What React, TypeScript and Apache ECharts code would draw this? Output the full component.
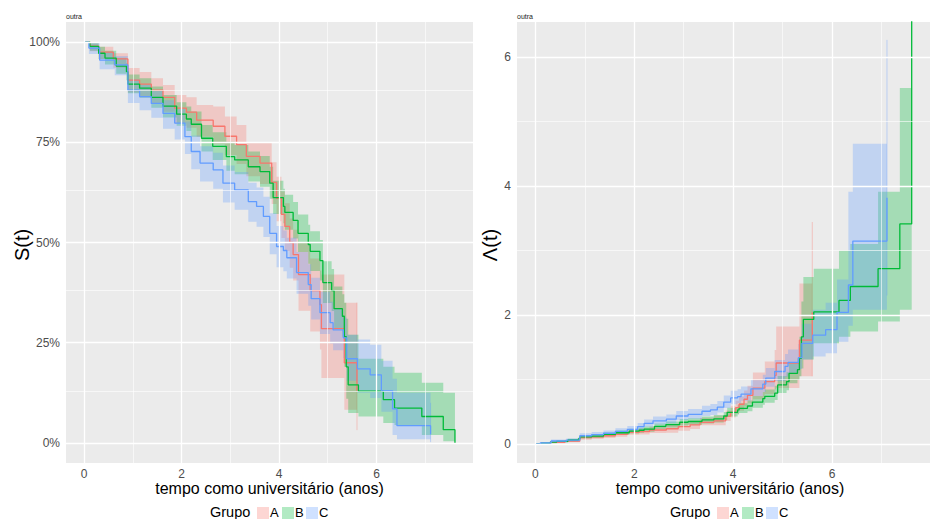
import React, { useEffect, useRef } from 'react';
import * as echarts from 'echarts';

const FONT = '"Liberation Sans", Arial, Helvetica, sans-serif';

// Kaplan–Meier estimates per group: step start times, survival, 95% CI bounds
const timeA = [0, 0.12, 0.3, 0.6, 0.9, 1.14, 1.38, 1.62, 1.86, 2.1, 2.31, 2.65, 2.89, 3.13, 3.33, 3.61, 3.85, 3.95, 4.05, 4.12, 4.22, 4.29, 4.4, 4.64, 4.84, 4.87, 5.34, 5.6];
const survA = [1, 0.99, 0.975, 0.958, 0.905, 0.895, 0.88, 0.862, 0.835, 0.825, 0.805, 0.79, 0.765, 0.744, 0.715, 0.698, 0.65, 0.61, 0.57, 0.54, 0.5, 0.47, 0.42, 0.38, 0.345, 0.285, 0.2, 0.13];
const lowerA = [1, 0.977, 0.958, 0.936, 0.874, 0.862, 0.846, 0.826, 0.797, 0.786, 0.764, 0.745, 0.718, 0.696, 0.665, 0.646, 0.596, 0.553, 0.511, 0.479, 0.437, 0.405, 0.33, 0.278, 0.233, 0.162, 0.083, 0.032];
const upperA = [1, 0.999, 0.988, 0.972, 0.935, 0.925, 0.91, 0.893, 0.868, 0.862, 0.843, 0.839, 0.814, 0.793, 0.748, 0.748, 0.7, 0.664, 0.627, 0.598, 0.56, 0.532, 0.5, 0.46, 0.43, 0.42, 0.35, 0.35];

const timeB = [0, 0.12, 0.3, 0.43, 0.66, 0.87, 0.9, 1.14, 1.38, 1.62, 1.9, 2.1, 2.2, 2.41, 2.64, 2.92, 3.09, 3.37, 3.61, 3.81, 3.88, 4.09, 4.12, 4.29, 4.39, 4.6, 4.64, 4.84, 4.9, 5.08, 5.13, 5.3, 5.34, 5.38, 5.42, 5.63, 6.14, 6.37, 6.93, 7.37, 7.61];
const survB = [1, 0.989, 0.972, 0.96, 0.94, 0.926, 0.895, 0.885, 0.862, 0.84, 0.82, 0.808, 0.795, 0.76, 0.74, 0.714, 0.706, 0.689, 0.677, 0.648, 0.612, 0.59, 0.575, 0.555, 0.523, 0.495, 0.478, 0.455, 0.4, 0.38, 0.335, 0.316, 0.265, 0.19, 0.145, 0.129, 0.108, 0.087, 0.066, 0.033, 0];
const lowerB = [1, 0.978, 0.958, 0.944, 0.921, 0.905, 0.872, 0.861, 0.836, 0.812, 0.791, 0.778, 0.764, 0.727, 0.706, 0.679, 0.67, 0.652, 0.639, 0.609, 0.571, 0.548, 0.532, 0.51, 0.476, 0.447, 0.429, 0.405, 0.349, 0.329, 0.284, 0.265, 0.19, 0.11, 0.075, 0.066, 0.05, 0.045, 0.02, 0.004, 0];
const upperB = [1, 0.999, 0.988, 0.978, 0.961, 0.948, 0.919, 0.91, 0.889, 0.868, 0.85, 0.839, 0.827, 0.793, 0.775, 0.751, 0.743, 0.727, 0.716, 0.689, 0.654, 0.634, 0.619, 0.601, 0.57, 0.544, 0.528, 0.506, 0.453, 0.434, 0.39, 0.371, 0.35, 0.31, 0.27, 0.21, 0.19, 0.175, 0.15, 0.125, 0];

const timeC = [0, 0.1, 0.32, 0.63, 0.9, 1.14, 1.38, 1.62, 1.86, 2.07, 2.2, 2.38, 2.65, 2.85, 3.09, 3.37, 3.54, 3.68, 3.81, 3.95, 4.09, 4.16, 4.36, 4.6, 4.66, 4.84, 5.05, 5.11, 5.32, 5.39, 5.61, 5.87, 6.1, 6.33, 6.42, 7.11];
const survC = [1, 0.985, 0.955, 0.943, 0.88, 0.864, 0.847, 0.822, 0.798, 0.764, 0.727, 0.698, 0.681, 0.648, 0.631, 0.602, 0.59, 0.565, 0.523, 0.49, 0.48, 0.462, 0.425, 0.395, 0.36, 0.325, 0.3, 0.282, 0.262, 0.21, 0.185, 0.17, 0.13, 0.085, 0.043, 0.022];
const lowerC = [1, 0.97, 0.932, 0.917, 0.848, 0.83, 0.811, 0.784, 0.757, 0.721, 0.683, 0.652, 0.634, 0.6, 0.582, 0.552, 0.539, 0.514, 0.471, 0.438, 0.428, 0.41, 0.372, 0.342, 0.308, 0.272, 0.248, 0.231, 0.212, 0.155, 0.125, 0.112, 0.078, 0.02, 0.0095, 0.0019];
const upperC = [1, 0.998, 0.975, 0.965, 0.907, 0.893, 0.878, 0.855, 0.833, 0.802, 0.767, 0.74, 0.724, 0.692, 0.676, 0.649, 0.637, 0.614, 0.573, 0.541, 0.53, 0.512, 0.476, 0.446, 0.412, 0.377, 0.352, 0.334, 0.313, 0.27, 0.258, 0.245, 0.205, 0.16, 0.125, 0.1];

const groupNames = ['A', 'B', 'C'];
const groupColors = ['#F8766D', '#00BA38', '#619CFF'];

const xTicks = [0, 2, 4, 6];
const xMinor = [1, 3, 5, 7];
const survTicks = [0, 0.25, 0.5, 0.75, 1];
const survMinor = [0.125, 0.375, 0.625, 0.875];
const hazTicks = [0, 2, 4, 6];
const hazMinor = [1, 3, 5];

const xTitle = 'tempo como universitário (anos)';
const legendTitle = 'Grupo';
const stratumLabel = 'outra';

type Group = { name: string; color: string; time: number[]; surv: number[]; lower: number[]; upper: number[] };

const groups: Group[] = [
  { name: groupNames[0], color: groupColors[0], time: timeA, surv: survA, lower: lowerA, upper: upperA },
  { name: groupNames[1], color: groupColors[1], time: timeB, surv: survB, lower: lowerB, upper: upperB },
  { name: groupNames[2], color: groupColors[2], time: timeC, surv: survC, lower: lowerC, upper: upperC },
];

// cumulative hazard from the survival estimate (fun = "cumhaz"), capped for drawing
const cumhaz = (s: number) => Math.min(-Math.log(Math.max(s, 1e-12)), 50);

const rgba = (hex: string, a: number) => {
  const n = parseInt(hex.slice(1), 16);
  return `rgba(${(n >> 16) & 255},${(n >> 8) & 255},${n & 255},${a})`;
};

const GRID_L = { left: 66, top: 22, width: 407, height: 441 };
const GRID_R = { left: 517, top: 22, width: 426, height: 441 };

function bandSeries(g: Group, idx: number, hazard: boolean) {
  const lo = (i: number) => (hazard ? cumhaz(g.upper[i]) : g.lower[i]);
  const hi = (i: number) => (hazard ? cumhaz(g.lower[i]) : g.upper[i]);
  return {
    type: 'custom',
    name: g.name,
    xAxisIndex: idx,
    yAxisIndex: idx,
    clip: true,
    silent: true,
    z: 2,
    data: [[g.time[0], g.surv[0]]],
    renderItem: (_params: any, api: any) => {
      const n = g.time.length;
      const top: number[][] = [];
      const bottom: number[][] = [];
      for (let i = 0; i < n - 1; i++) {
        const t0 = g.time[i];
        const t1 = g.time[i + 1];
        top.push(api.coord([t0, hi(i)]), api.coord([t1, hi(i)]));
        bottom.push(api.coord([t0, lo(i)]), api.coord([t1, lo(i)]));
      }
      const pts = top.concat(bottom.reverse());
      const last = n - 1;
      const a = api.coord([g.time[last], lo(last)]);
      const b = api.coord([g.time[last], hi(last)]);
      return {
        type: 'group',
        children: [
          { type: 'polygon', shape: { points: pts }, style: { fill: rgba(g.color, 0.3) } },
          {
            type: 'line',
            shape: { x1: a[0], y1: a[1], x2: b[0], y2: b[1] },
            style: { stroke: rgba(g.color, 0.35), lineWidth: 1 },
          },
        ],
      };
    },
  };
}

function lineSeries(g: Group, idx: number, hazard: boolean) {
  return {
    type: 'line',
    name: g.name,
    xAxisIndex: idx,
    yAxisIndex: idx,
    step: 'end',
    showSymbol: false,
    symbol: 'none',
    silent: true,
    z: 3,
    lineStyle: { color: g.color, width: 1.3 },
    data: g.time.map((t, i) => [t, hazard ? cumhaz(g.surv[i]) : g.surv[i]]),
  };
}

function gridLineSeries(idx: number, xs: number[], ys: number[], width: number) {
  return {
    type: 'line',
    xAxisIndex: idx,
    yAxisIndex: idx,
    data: [],
    silent: true,
    z: 1,
    markLine: {
      silent: true,
      symbol: ['none', 'none'],
      label: { show: false },
      emphasis: { disabled: true },
      lineStyle: { color: '#ffffff', width, type: 'solid', opacity: 1 },
      data: [...xs.map((v) => ({ xAxis: v })), ...ys.map((v) => ({ yAxis: v }))],
    },
  };
}

const tickStyle = { show: true, length: 4, lineStyle: { color: '#333333', width: 1 } };
const labelStyle = { color: '#4D4D4D', fontSize: 12, fontFamily: FONT };

function xAxisFor(idx: number) {
  return {
    type: 'value',
    gridIndex: idx,
    min: -0.37,
    max: 7.98,
    axisLine: { show: false },
    axisTick: { ...tickStyle, customValues: xTicks },
    axisLabel: { ...labelStyle, margin: 5, customValues: xTicks, formatter: (v: number) => String(v) },
    splitLine: { show: false },
  };
}

function legendGraphics(dx: number) {
  const keyX = [257, 282, 306];
  const txtX = [270, 295, 319];
  const items: any[] = [
    { type: 'text', x: 210 + dx, y: 511.5, style: { text: legendTitle, fontSize: 14.5, fontFamily: FONT, fill: '#000', textVerticalAlign: 'middle' } },
  ];
  groups.forEach((g, i) => {
    items.push({ type: 'rect', shape: { x: keyX[i] + dx, y: 507, width: 12, height: 12 }, style: { fill: rgba(g.color, 0.3) } });
    items.push({ type: 'text', x: txtX[i] + dx, y: 512, style: { text: g.name, fontSize: 13, fontFamily: FONT, fill: '#000', textVerticalAlign: 'middle' } });
  });
  return items;
}

export default function App() {
  const ref = useRef<HTMLDivElement>(null);

  useEffect(() => {
    if (!ref.current) return;
    const chart = echarts.init(ref.current, null, { renderer: 'svg' });
    const option: any = {
      animation: false,
      backgroundColor: '#ffffff',
      textStyle: { fontFamily: FONT },
      grid: [
        { ...GRID_L, show: true, backgroundColor: '#EBEBEB', borderWidth: 0 },
        { ...GRID_R, show: true, backgroundColor: '#EBEBEB', borderWidth: 0 },
      ],
      xAxis: [xAxisFor(0), xAxisFor(1)],
      yAxis: [
        {
          type: 'value',
          gridIndex: 0,
          min: -0.05,
          max: 1.05,
          axisLine: { show: false },
          axisTick: { ...tickStyle, customValues: survTicks },
          axisLabel: { ...labelStyle, margin: 6, customValues: survTicks, formatter: (v: number) => `${Math.round(v * 100)}%` },
          splitLine: { show: false },
        },
        {
          type: 'value',
          gridIndex: 1,
          min: -0.295,
          max: 6.543,
          axisLine: { show: false },
          axisTick: { ...tickStyle, customValues: hazTicks },
          axisLabel: { ...labelStyle, margin: 6, customValues: hazTicks, formatter: (v: number) => String(v) },
          splitLine: { show: false },
        },
      ],
      series: [
        gridLineSeries(0, xMinor, survMinor, 0.6),
        gridLineSeries(0, xTicks, survTicks, 1.3),
        gridLineSeries(1, xMinor, hazMinor, 0.6),
        gridLineSeries(1, xTicks, hazTicks, 1.3),
        ...groups.map((g) => bandSeries(g, 0, false)),
        ...groups.map((g) => lineSeries(g, 0, false)),
        ...groups.map((g) => bandSeries(g, 1, true)),
        ...groups.map((g) => lineSeries(g, 1, true)),
      ],
      graphic: [
        { type: 'text', x: 66, y: 16, style: { text: stratumLabel, fontSize: 7, fontFamily: FONT, fill: '#1A1A1A', textVerticalAlign: 'middle' } },
        { type: 'text', x: 517, y: 16, style: { text: stratumLabel, fontSize: 7, fontFamily: FONT, fill: '#1A1A1A', textVerticalAlign: 'middle' } },
        {
          type: 'text', x: 22, y: 245, rotation: Math.PI / 2,
          style: { text: 'S(t)', fontSize: 20, fontFamily: FONT, fill: '#000', textAlign: 'center', textVerticalAlign: 'middle' },
        },
        {
          type: 'text', x: 490, y: 245, rotation: Math.PI / 2,
          style: { text: 'Λ(t)', fontSize: 20, fontFamily: FONT, fill: '#000', textAlign: 'center', textVerticalAlign: 'middle' },
        },
        {
          type: 'text', x: GRID_L.left + GRID_L.width / 2, y: 488.5,
          style: { text: xTitle, fontSize: 16, fontFamily: FONT, fill: '#000', textAlign: 'center', textVerticalAlign: 'middle' },
        },
        {
          type: 'text', x: GRID_R.left + GRID_R.width / 2, y: 488.5,
          style: { text: xTitle, fontSize: 16, fontFamily: FONT, fill: '#000', textAlign: 'center', textVerticalAlign: 'middle' },
        },
        ...legendGraphics(0),
        ...legendGraphics(460),
      ],
    };
    chart.setOption(option);
    return () => chart.dispose();
  }, []);

  return (
    <div
      ref={ref}
      style={{ position: 'absolute', left: 0, top: 0, width: 930, height: 519, background: '#fff' }}
    />
  );
}
